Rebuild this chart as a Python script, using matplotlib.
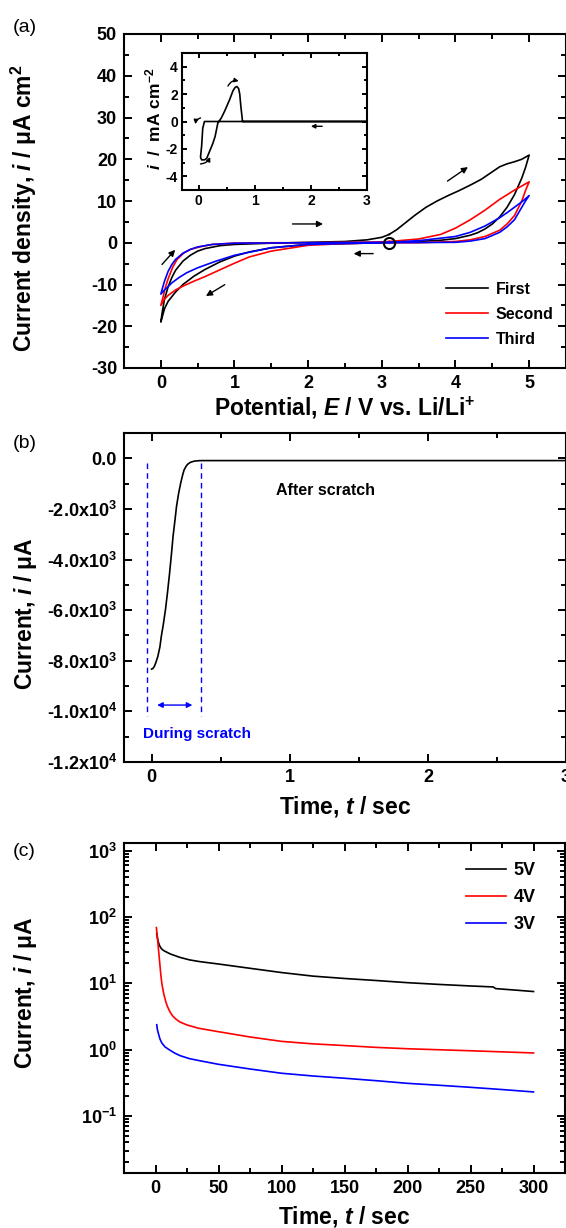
import numpy as np
import matplotlib
matplotlib.use("Agg")
import matplotlib.pyplot as plt
from matplotlib.ticker import MultipleLocator, FuncFormatter, LogLocator, NullFormatter

# ---------------- data ----------------
# (a) cyclic voltammetry, three cycles (E / V, i / uA cm^-2)
first_E = [3.1, 3.2, 3.3, 3.45, 3.6, 3.75, 3.9, 4.05, 4.2, 4.35, 4.5, 4.6, 4.7, 4.8, 4.9, 5.0,
           4.95, 4.9, 4.85, 4.8, 4.7, 4.6, 4.5, 4.4, 4.3, 4.2, 4.0, 3.8, 3.5, 3.2, 3.0, 2.5, 2.0,
           1.5, 1.2, 1.0, 0.8, 0.6, 0.45, 0.3, 0.2, 0.1, 0.05, 0.0,
           0.02, 0.05, 0.1, 0.15, 0.2, 0.3, 0.4, 0.5, 0.6, 0.8, 1.0, 1.5, 2.0, 2.5, 2.8, 3.0, 3.1]
first_i = [2.0, 3.1, 4.5, 6.6, 8.5, 10.0, 11.3, 12.5, 13.8, 15.2, 17.0, 18.2, 18.9, 19.4, 20.0, 21.0,
           18.0, 15.5, 13.5, 11.5, 8.5, 6.2, 4.5, 3.3, 2.4, 1.8, 1.0, 0.6, 0.3, 0.1, 0.0, -0.2, -0.4,
           -1.2, -2.2, -3.2, -4.6, -6.4, -8.0, -10.0, -11.8, -14.0, -15.8, -19.0,
           -16.5, -13.5, -10.5, -8.3, -6.6, -4.4, -3.0, -2.0, -1.4, -0.7, -0.4, -0.1, 0.1, 0.3, 0.7, 1.3, 2.0]

second_E = [3.1, 3.5, 3.8, 4.0, 4.2, 4.4, 4.6, 4.8, 4.9, 5.0,
            4.95, 4.9, 4.8, 4.7, 4.6, 4.4, 4.2, 4.0, 3.5, 3.0, 2.5, 2.0, 1.5, 1.2, 1.0, 0.8, 0.6,
            0.45, 0.3, 0.2, 0.1, 0.05, 0.0,
            0.03, 0.06, 0.1, 0.16, 0.22, 0.31, 0.4, 0.55, 0.7, 1.0, 1.5, 2.0, 2.5, 3.0, 3.1]
second_i = [0.3, 0.9, 2.0, 3.5, 5.5, 7.8, 10.4, 12.6, 13.6, 14.6,
            12.5, 10.0, 6.5, 4.5, 3.0, 1.5, 0.7, 0.3, 0.0, 0.0, -0.2, -0.6, -2.0, -3.4, -4.9, -6.5, -8.1,
            -9.2, -10.4, -11.3, -12.6, -13.5, -15.0,
            -13.0, -10.8, -8.6, -5.9, -4.0, -2.5, -1.6, -0.9, -0.4, -0.1, 0.0, 0.0, 0.1, 0.2, 0.3]

third_E = [3.1, 3.5, 4.0, 4.2, 4.4, 4.6, 4.7, 4.8, 4.9, 5.0,
           4.95, 4.9, 4.8, 4.7, 4.6, 4.4, 4.2, 4.0, 3.0, 2.0, 1.5, 1.0, 0.75, 0.5, 0.35, 0.25,
           0.15, 0.1, 0.05, 0.0,
           0.02, 0.05, 0.1, 0.15, 0.2, 0.3, 0.4, 0.5, 0.7, 1.0, 2.0, 3.0, 3.1]
third_i = [0.1, 0.5, 1.5, 2.5, 4.0, 6.0, 7.2, 8.5, 9.8, 11.3,
           10.0, 8.5, 5.5, 3.8, 2.5, 1.0, 0.4, 0.1, 0.0, -0.4, -1.2, -3.0, -4.4, -6.0, -7.2, -8.3,
           -9.6, -10.5, -11.3, -12.3,
           -11.0, -9.2, -6.8, -5.2, -4.0, -2.5, -1.6, -1.0, -0.4, -0.1, 0.0, 0.1, 0.1]

cv_labels = ["First", "Second", "Third"]
cv_colors = ["black", "red", "blue"]

# inset (a): first sweep on bare electrode, i / mA cm^-2
inset_E = [3.0, 2.0, 1.0, 0.5, 0.1, 0.07, 0.05, 0.03, 0.05, 0.1, 0.14, 0.2, 0.25, 0.29, 0.34,
           0.4, 0.46, 0.55, 0.61, 0.65, 0.68, 0.71, 0.73, 0.75, 0.78, 1.0, 2.0, 3.0]
inset_i = [0.0, 0.0, 0.0, 0.0, 0.0, -0.5, -1.8, -2.6, -2.8, -2.8, -2.7, -2.1, -1.6, -1.1, -0.1,
           0.25, 0.75, 1.6, 2.25, 2.5, 2.55, 2.4, 2.0, 1.1, 0.0, 0.0, 0.0, 0.0]

# (b) current transient during / after scratch (t / s, i / uA)
scr_t = [0.0, 0.01, 0.02, 0.03, 0.045, 0.06, 0.07, 0.085, 0.1, 0.115, 0.13, 0.145, 0.155, 0.17,
         0.18, 0.195, 0.21, 0.225, 0.235, 0.25, 0.26, 0.28, 0.31, 0.34, 0.365, 1.0, 2.0, 3.0]
scr_i = [-8330, -8300, -8220, -8080, -7830, -7450, -7040, -6550, -5990, -5300, -4540, -3700, -3090,
         -2400, -1910, -1400, -990, -650, -460, -310, -240, -160, -110, -95, -90, -90, -90, -90]
scratch_start = -0.035
scratch_end = 0.36

# (c) potentiostatic current decay (t / s, i / uA)
pot_labels = ["5V", "4V", "3V"]
pot_colors = ["black", "red", "blue"]
t5 = [1.0, 1.6, 2.2, 3.2, 4.5, 6, 8, 12, 19.5, 27, 35, 50, 75, 100, 125, 150, 175, 200, 225, 250,
      268, 270, 285, 300]
i5 = [56, 47, 42, 37, 33.5, 31.5, 30, 27.5, 24.5, 22.5, 21.2, 19.5, 16.8, 14.5, 12.8, 11.8, 11.0,
      10.2, 9.6, 9.1, 8.8, 8.3, 7.9, 7.5]
t4 = [0.7, 1.1, 1.5, 2.2, 3.0, 3.6, 4.3, 5, 6.5, 8, 9.4, 11.5, 13.7, 16.5, 19.5, 25, 34, 50, 75,
      100, 125, 150, 175, 200, 250, 300]
i4 = [69, 58, 50, 35, 24, 18, 13, 10, 7.0, 5.4, 4.5, 3.7, 3.2, 2.85, 2.6, 2.35, 2.1, 1.86, 1.55,
      1.33, 1.22, 1.15, 1.08, 1.03, 0.96, 0.89]
t3 = [1.0, 1.5, 2.2, 3.5, 5, 7.5, 10.7, 15, 19.5, 27, 35, 50, 75, 100, 125, 150, 175, 200, 225,
      250, 275, 300]
i3 = [2.37, 2.0, 1.78, 1.45, 1.26, 1.1, 1.0, 0.89, 0.81, 0.73, 0.68, 0.6, 0.51, 0.44, 0.40, 0.37,
      0.34, 0.31, 0.29, 0.27, 0.25, 0.23]

# ---------------- style ----------------
plt.rcParams['font.family'] = ['Liberation Sans', 'DejaVu Sans']
plt.rcParams['font.weight'] = 'bold'
plt.rcParams['mathtext.fontset'] = 'custom'
plt.rcParams['mathtext.rm'] = 'Liberation Sans:bold'
plt.rcParams['mathtext.bf'] = 'Liberation Sans:bold'
plt.rcParams['mathtext.it'] = 'Liberation Sans:bold:italic'
plt.rcParams['axes.linewidth'] = 1.5
plt.rcParams['axes.unicode_minus'] = False

W, H = 566, 1228
fig = plt.figure(figsize=(W / 100, H / 100), dpi=100)


def rect(l, t, r, b):
    return [l / W, 1 - b / H, (r - l) / W, (b - t) / H]


def style(ax, size=13, major=6, minor=3.5, pad=5):
    ax.tick_params(which='both', direction='in', top=True, right=True, width=1.4, labelsize=size, pad=pad)
    ax.tick_params(which='major', length=major)
    ax.tick_params(which='minor', length=minor)
    for lab in ax.get_xticklabels() + ax.get_yticklabels():
        lab.set_fontweight('bold')


LABEL_FS = 16.5
YLAB_RIGHT = 39  # px, right edge of rotated y labels


def place_labels(ax, l, t, r, b, xlab_top, ylab_cy):
    w, h = r - l, b - t
    ax.yaxis.set_label_coords(-(l - YLAB_RIGHT) / w, (b - ylab_cy) / h)
    ax.xaxis.set_label_coords(0.5, -(xlab_top - b) / h)


# ---------- (a) ----------
A = (124, 34, 566, 368)
axa = fig.add_axes(rect(*A))
for E, i, c, lab in zip([first_E, second_E, third_E], [first_i, second_i, third_i], cv_colors, cv_labels):
    axa.plot(E, i, color=c, lw=1.2, label=lab)
axa.plot([3.1], [0.0], marker='o', ms=8, mfc='none', mec='black', mew=1.5)
axa.set_xlim(-0.5, 5.5)
axa.set_ylim(-30, 50)
axa.xaxis.set_major_locator(MultipleLocator(1))
axa.xaxis.set_minor_locator(MultipleLocator(0.5))
axa.yaxis.set_major_locator(MultipleLocator(10))
axa.yaxis.set_minor_locator(MultipleLocator(5))
style(axa)
axa.set_xlabel(r'Potential, $E$ / V vs. Li/Li$^{+}$', fontsize=LABEL_FS, fontweight='bold')
axa.set_ylabel('Current density, $i$ / \u03bcA cm$^{2}$', fontsize=LABEL_FS, fontweight='bold')
place_labels(axa, *A, xlab_top=395, ylab_cy=208)
arrow_kw = dict(arrowstyle='-|>', color='black', lw=1.0, mutation_scale=9)
for (x0, y0, x1, y1) in [(3.86, 14.4, 4.2, 18.5), (1.75, 4.5, 2.24, 4.5), (2.92, -2.6, 2.58, -2.6),
                         (0.9, -9.7, 0.58, -13.1), (-0.01, -5.7, 0.22, -1.2)]:
    axa.annotate('', xy=(x1, y1), xytext=(x0, y0), arrowprops=arrow_kw)
leg = axa.legend(loc='upper left', bbox_to_anchor=((446 - 124) / 442, (368 - 282) / 334),
                 frameon=False, fontsize=11.5, handlelength=2.6, handletextpad=0.5, labelspacing=0.62,
                 borderaxespad=0, borderpad=0)
for t in leg.get_texts():
    t.set_fontweight('bold')
fig.text(13 / W, 1 - 27 / H, '(a)', fontsize=14, fontweight='normal', va='center')

# inset
I = (182, 53, 367, 190)
axi = fig.add_axes(rect(*I))
axi.plot(inset_E, inset_i, color='black', lw=1.2)
axi.set_xlim(-0.3, 3)
axi.set_ylim(-5, 5)
axi.xaxis.set_major_locator(MultipleLocator(1))
axi.xaxis.set_minor_locator(MultipleLocator(0.5))
axi.yaxis.set_major_locator(MultipleLocator(2))
axi.yaxis.set_minor_locator(MultipleLocator(1))
style(axi, size=10, major=3.5, minor=2, pad=3)
axi.set_ylabel(r'$i$  /  mA cm$^{-2}$', fontsize=12.5, fontweight='bold')
axi.yaxis.set_label_coords(-(182 - 163) / 185, 0.52)
axi.annotate('', xy=(1.95, -0.35), xytext=(2.25, -0.35),
             arrowprops=dict(arrowstyle='-|>', color='black', lw=1.0, mutation_scale=6))
cur_kw = dict(arrowstyle='-|>', color='black', lw=1.0, mutation_scale=6)
axi.annotate('', xy=(-0.06, -0.4), xytext=(0.08, 0.3),
             arrowprops=dict(connectionstyle='arc3,rad=0.5', **cur_kw))
axi.annotate('', xy=(0.22, -2.4), xytext=(-0.02, -3.1),
             arrowprops=dict(connectionstyle='arc3,rad=0.4', **cur_kw))
axi.annotate('', xy=(0.76, 2.9), xytext=(0.5, 2.4),
             arrowprops=dict(connectionstyle='arc3,rad=-0.5', **cur_kw))

# ---------- (b) ----------
B = (124, 433, 566, 762)
axb = fig.add_axes(rect(*B))
axb.plot(scr_t, scr_i, color='black', lw=1.2)
axb.set_xlim(-0.2, 3.0)
axb.set_ylim(-12000, 1000)
axb.xaxis.set_major_locator(MultipleLocator(1))
axb.xaxis.set_minor_locator(MultipleLocator(0.5))
axb.yaxis.set_major_locator(MultipleLocator(2000))
axb.yaxis.set_minor_locator(MultipleLocator(1000))


def sci_fmt(v, pos):
    if abs(v) < 1e-9:
        return '0.0'
    e = int(np.floor(np.log10(abs(v))))
    m = v / 10 ** e
    return r'%.1fx10$^{%d}$' % (m, e)


axb.yaxis.set_major_formatter(FuncFormatter(sci_fmt))
style(axb)
for x in (scratch_start, scratch_end):
    axb.plot([x, x], [-200, -10200], color='blue', lw=1.0, ls=(0, (4, 3)))
axb.annotate('', xy=(0.315, -9750), xytext=(0.02, -9750),
             arrowprops=dict(arrowstyle='<|-|>', color='blue', lw=1.0, mutation_scale=8))
axb.text(-0.065, -10900, 'During scratch', color='blue', fontsize=11, fontweight='bold', ha='left', va='center')
axb.text(0.9, -1290, 'After scratch', color='black', fontsize=11.5, fontweight='bold', ha='left', va='center')
axb.set_xlabel(r'Time, $t$ / sec', fontsize=LABEL_FS, fontweight='bold')
axb.set_ylabel('Current, $i$ / \u03bcA', fontsize=LABEL_FS, fontweight='bold')
place_labels(axb, *B, xlab_top=794, ylab_cy=614)
fig.text(13 / W, 1 - 444 / H, '(b)', fontsize=14, fontweight='normal', va='center')

# ---------- (c) ----------
C = (124, 843, 565, 1173)
axc = fig.add_axes(rect(*C))
for t, i, c, lab in zip([t5, t4, t3], [i5, i4, i3], pot_colors, pot_labels):
    axc.plot(t, i, color=c, lw=1.2, label=lab)
axc.set_yscale('log')
axc.set_xlim(-25, 325)
axc.set_ylim(0.0138, 1300)
axc.xaxis.set_major_locator(MultipleLocator(50))
axc.xaxis.set_minor_locator(MultipleLocator(25))
axc.yaxis.set_major_locator(LogLocator(base=10, numticks=10))
axc.yaxis.set_minor_locator(LogLocator(base=10, subs=np.arange(2, 10), numticks=20))
axc.yaxis.set_minor_formatter(NullFormatter())
style(axc)
legc = axc.legend(loc='upper left', bbox_to_anchor=((466 - 124) / 441, (1173 - 862) / 330),
                  frameon=False, fontsize=13, handlelength=2.2, handletextpad=0.45, labelspacing=0.55,
                  borderaxespad=0, borderpad=0)
for t in legc.get_texts():
    t.set_fontweight('bold')
axc.set_xlabel(r'Time, $t$ / sec', fontsize=LABEL_FS, fontweight='bold')
axc.set_ylabel('Current, $i$ / \u03bcA', fontsize=LABEL_FS, fontweight='bold')
place_labels(axc, *C, xlab_top=1204, ylab_cy=993)
fig.text(13 / W, 1 - 852 / H, '(c)', fontsize=14, fontweight='normal', va='center')

fig.savefig('out.png', dpi=100)
